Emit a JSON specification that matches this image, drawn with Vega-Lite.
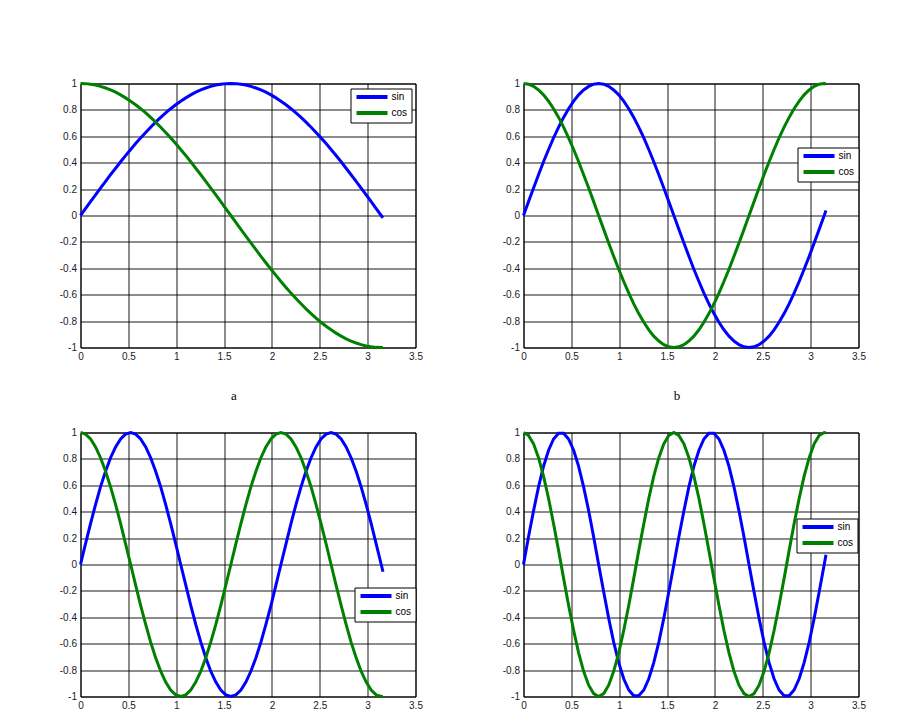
{
"$schema": "https://vega.github.io/schema/vega-lite/v6.json",
"background": "white",
"padding": {"left": 58.5, "top": 76.5, "right": 0, "bottom": 0},
"config": {
  "view": {"stroke": "#000", "strokeWidth": 1},
  "axis": {"grid": true, "gridColor": "#000", "gridOpacity": 0.9, "gridWidth": 1, "domain": false, "ticks": false, "labelFont": "Liberation Sans", "labelFontSize": 10, "labelColor": "#1a1a2a", "labelPadding": 4, "labelFlush": false, "labelOverlap": false},
  "legend": {"strokeColor": "#000", "fillColor": "#fff", "padding": 4, "symbolType": "stroke", "symbolSize": 961, "symbolStrokeWidth": 4, "labelFont": "Liberation Sans", "labelFontSize": 10, "labelOffset": 2, "clipHeight": 9, "rowPadding": 5, "labelColor": "#000"},
  "title": {"font": "Liberation Serif", "fontSize": 13, "fontWeight": "normal", "color": "#000"}
},
"datasets": {
"a": [
{"x":0,"sin":0,"cos":1},{"x":0.052,"sin":0.052,"cos":0.999},{"x":0.105,"sin":0.105,"cos":0.995},{"x":0.157,"sin":0.156,"cos":0.988},{"x":0.209,"sin":0.208,"cos":0.978},{"x":0.262,"sin":0.259,"cos":0.966},{"x":0.314,"sin":0.309,"cos":0.951},{"x":0.367,"sin":0.358,"cos":0.934},{"x":0.419,"sin":0.407,"cos":0.914},{"x":0.471,"sin":0.454,"cos":0.891},{"x":0.524,"sin":0.5,"cos":0.866},{"x":0.576,"sin":0.545,"cos":0.839},{"x":0.628,"sin":0.588,"cos":0.809},{"x":0.681,"sin":0.629,"cos":0.777},{"x":0.733,"sin":0.669,"cos":0.743},{"x":0.785,"sin":0.707,"cos":0.707},{"x":0.838,"sin":0.743,"cos":0.669},{"x":0.890,"sin":0.777,"cos":0.629},{"x":0.942,"sin":0.809,"cos":0.588},{"x":0.995,"sin":0.839,"cos":0.545},{"x":1.047,"sin":0.866,"cos":0.5},{"x":1.100,"sin":0.891,"cos":0.454},{"x":1.152,"sin":0.914,"cos":0.407},{"x":1.204,"sin":0.934,"cos":0.358},{"x":1.257,"sin":0.951,"cos":0.309},{"x":1.309,"sin":0.966,"cos":0.259},{"x":1.361,"sin":0.978,"cos":0.208},{"x":1.414,"sin":0.988,"cos":0.156},{"x":1.466,"sin":0.995,"cos":0.105},{"x":1.518,"sin":0.999,"cos":0.052},{"x":1.571,"sin":1,"cos":0},{"x":1.623,"sin":0.999,"cos":-0.052},{"x":1.676,"sin":0.995,"cos":-0.105},{"x":1.728,"sin":0.988,"cos":-0.156},{"x":1.780,"sin":0.978,"cos":-0.208},{"x":1.833,"sin":0.966,"cos":-0.259},{"x":1.885,"sin":0.951,"cos":-0.309},{"x":1.937,"sin":0.934,"cos":-0.358},{"x":1.990,"sin":0.914,"cos":-0.407},{"x":2.042,"sin":0.891,"cos":-0.454},{"x":2.094,"sin":0.866,"cos":-0.5},{"x":2.147,"sin":0.839,"cos":-0.545},{"x":2.199,"sin":0.809,"cos":-0.588},{"x":2.251,"sin":0.777,"cos":-0.629},{"x":2.304,"sin":0.743,"cos":-0.669},{"x":2.356,"sin":0.707,"cos":-0.707},{"x":2.409,"sin":0.669,"cos":-0.743},{"x":2.461,"sin":0.629,"cos":-0.777},{"x":2.513,"sin":0.588,"cos":-0.809},{"x":2.566,"sin":0.545,"cos":-0.839},{"x":2.618,"sin":0.5,"cos":-0.866},{"x":2.670,"sin":0.454,"cos":-0.891},{"x":2.723,"sin":0.407,"cos":-0.914},{"x":2.775,"sin":0.358,"cos":-0.934},{"x":2.827,"sin":0.309,"cos":-0.951},{"x":2.880,"sin":0.259,"cos":-0.966},{"x":2.932,"sin":0.208,"cos":-0.978},{"x":2.985,"sin":0.156,"cos":-0.988},{"x":3.037,"sin":0.105,"cos":-0.995},{"x":3.089,"sin":0.052,"cos":-0.999},{"x":3.142,"sin":0,"cos":-1},{"x":3.16,"sin":-0.018,"cos":-1}
],
"b": [
{"x":0,"sin":0,"cos":1},{"x":0.052,"sin":0.105,"cos":0.995},{"x":0.105,"sin":0.208,"cos":0.978},{"x":0.157,"sin":0.309,"cos":0.951},{"x":0.209,"sin":0.407,"cos":0.914},{"x":0.262,"sin":0.5,"cos":0.866},{"x":0.314,"sin":0.588,"cos":0.809},{"x":0.367,"sin":0.669,"cos":0.743},{"x":0.419,"sin":0.743,"cos":0.669},{"x":0.471,"sin":0.809,"cos":0.588},{"x":0.524,"sin":0.866,"cos":0.5},{"x":0.576,"sin":0.914,"cos":0.407},{"x":0.628,"sin":0.951,"cos":0.309},{"x":0.681,"sin":0.978,"cos":0.208},{"x":0.733,"sin":0.995,"cos":0.105},{"x":0.785,"sin":1,"cos":0},{"x":0.838,"sin":0.995,"cos":-0.105},{"x":0.890,"sin":0.978,"cos":-0.208},{"x":0.942,"sin":0.951,"cos":-0.309},{"x":0.995,"sin":0.914,"cos":-0.407},{"x":1.047,"sin":0.866,"cos":-0.5},{"x":1.100,"sin":0.809,"cos":-0.588},{"x":1.152,"sin":0.743,"cos":-0.669},{"x":1.204,"sin":0.669,"cos":-0.743},{"x":1.257,"sin":0.588,"cos":-0.809},{"x":1.309,"sin":0.5,"cos":-0.866},{"x":1.361,"sin":0.407,"cos":-0.914},{"x":1.414,"sin":0.309,"cos":-0.951},{"x":1.466,"sin":0.208,"cos":-0.978},{"x":1.518,"sin":0.105,"cos":-0.995},{"x":1.571,"sin":0,"cos":-1},{"x":1.623,"sin":-0.105,"cos":-0.995},{"x":1.676,"sin":-0.208,"cos":-0.978},{"x":1.728,"sin":-0.309,"cos":-0.951},{"x":1.780,"sin":-0.407,"cos":-0.914},{"x":1.833,"sin":-0.5,"cos":-0.866},{"x":1.885,"sin":-0.588,"cos":-0.809},{"x":1.937,"sin":-0.669,"cos":-0.743},{"x":1.990,"sin":-0.743,"cos":-0.669},{"x":2.042,"sin":-0.809,"cos":-0.588},{"x":2.094,"sin":-0.866,"cos":-0.5},{"x":2.147,"sin":-0.914,"cos":-0.407},{"x":2.199,"sin":-0.951,"cos":-0.309},{"x":2.251,"sin":-0.978,"cos":-0.208},{"x":2.304,"sin":-0.995,"cos":-0.105},{"x":2.356,"sin":-1,"cos":0},{"x":2.409,"sin":-0.995,"cos":0.105},{"x":2.461,"sin":-0.978,"cos":0.208},{"x":2.513,"sin":-0.951,"cos":0.309},{"x":2.566,"sin":-0.914,"cos":0.407},{"x":2.618,"sin":-0.866,"cos":0.5},{"x":2.670,"sin":-0.809,"cos":0.588},{"x":2.723,"sin":-0.743,"cos":0.669},{"x":2.775,"sin":-0.669,"cos":0.743},{"x":2.827,"sin":-0.588,"cos":0.809},{"x":2.880,"sin":-0.5,"cos":0.866},{"x":2.932,"sin":-0.407,"cos":0.914},{"x":2.985,"sin":-0.309,"cos":0.951},{"x":3.037,"sin":-0.208,"cos":0.978},{"x":3.089,"sin":-0.105,"cos":0.995},{"x":3.142,"sin":0,"cos":1},{"x":3.16,"sin":0.037,"cos":0.999}
],
"c": [
{"x":0,"sin":0,"cos":1},{"x":0.052,"sin":0.156,"cos":0.988},{"x":0.105,"sin":0.309,"cos":0.951},{"x":0.157,"sin":0.454,"cos":0.891},{"x":0.209,"sin":0.588,"cos":0.809},{"x":0.262,"sin":0.707,"cos":0.707},{"x":0.314,"sin":0.809,"cos":0.588},{"x":0.367,"sin":0.891,"cos":0.454},{"x":0.419,"sin":0.951,"cos":0.309},{"x":0.471,"sin":0.988,"cos":0.156},{"x":0.524,"sin":1,"cos":0},{"x":0.576,"sin":0.988,"cos":-0.156},{"x":0.628,"sin":0.951,"cos":-0.309},{"x":0.681,"sin":0.891,"cos":-0.454},{"x":0.733,"sin":0.809,"cos":-0.588},{"x":0.785,"sin":0.707,"cos":-0.707},{"x":0.838,"sin":0.588,"cos":-0.809},{"x":0.890,"sin":0.454,"cos":-0.891},{"x":0.942,"sin":0.309,"cos":-0.951},{"x":0.995,"sin":0.156,"cos":-0.988},{"x":1.047,"sin":0,"cos":-1},{"x":1.100,"sin":-0.156,"cos":-0.988},{"x":1.152,"sin":-0.309,"cos":-0.951},{"x":1.204,"sin":-0.454,"cos":-0.891},{"x":1.257,"sin":-0.588,"cos":-0.809},{"x":1.309,"sin":-0.707,"cos":-0.707},{"x":1.361,"sin":-0.809,"cos":-0.588},{"x":1.414,"sin":-0.891,"cos":-0.454},{"x":1.466,"sin":-0.951,"cos":-0.309},{"x":1.518,"sin":-0.988,"cos":-0.156},{"x":1.571,"sin":-1,"cos":0},{"x":1.623,"sin":-0.988,"cos":0.156},{"x":1.676,"sin":-0.951,"cos":0.309},{"x":1.728,"sin":-0.891,"cos":0.454},{"x":1.780,"sin":-0.809,"cos":0.588},{"x":1.833,"sin":-0.707,"cos":0.707},{"x":1.885,"sin":-0.588,"cos":0.809},{"x":1.937,"sin":-0.454,"cos":0.891},{"x":1.990,"sin":-0.309,"cos":0.951},{"x":2.042,"sin":-0.156,"cos":0.988},{"x":2.094,"sin":0,"cos":1},{"x":2.147,"sin":0.156,"cos":0.988},{"x":2.199,"sin":0.309,"cos":0.951},{"x":2.251,"sin":0.454,"cos":0.891},{"x":2.304,"sin":0.588,"cos":0.809},{"x":2.356,"sin":0.707,"cos":0.707},{"x":2.409,"sin":0.809,"cos":0.588},{"x":2.461,"sin":0.891,"cos":0.454},{"x":2.513,"sin":0.951,"cos":0.309},{"x":2.566,"sin":0.988,"cos":0.156},{"x":2.618,"sin":1,"cos":0},{"x":2.670,"sin":0.988,"cos":-0.156},{"x":2.723,"sin":0.951,"cos":-0.309},{"x":2.775,"sin":0.891,"cos":-0.454},{"x":2.827,"sin":0.809,"cos":-0.588},{"x":2.880,"sin":0.707,"cos":-0.707},{"x":2.932,"sin":0.588,"cos":-0.809},{"x":2.985,"sin":0.454,"cos":-0.891},{"x":3.037,"sin":0.309,"cos":-0.951},{"x":3.089,"sin":0.156,"cos":-0.988},{"x":3.142,"sin":0,"cos":-1},{"x":3.16,"sin":-0.055,"cos":-0.998}
],
"d": [
{"x":0,"sin":0,"cos":1},{"x":0.052,"sin":0.208,"cos":0.978},{"x":0.105,"sin":0.407,"cos":0.914},{"x":0.157,"sin":0.588,"cos":0.809},{"x":0.209,"sin":0.743,"cos":0.669},{"x":0.262,"sin":0.866,"cos":0.5},{"x":0.314,"sin":0.951,"cos":0.309},{"x":0.367,"sin":0.995,"cos":0.105},{"x":0.419,"sin":0.995,"cos":-0.105},{"x":0.471,"sin":0.951,"cos":-0.309},{"x":0.524,"sin":0.866,"cos":-0.5},{"x":0.576,"sin":0.743,"cos":-0.669},{"x":0.628,"sin":0.588,"cos":-0.809},{"x":0.681,"sin":0.407,"cos":-0.914},{"x":0.733,"sin":0.208,"cos":-0.978},{"x":0.785,"sin":0,"cos":-1},{"x":0.838,"sin":-0.208,"cos":-0.978},{"x":0.890,"sin":-0.407,"cos":-0.914},{"x":0.942,"sin":-0.588,"cos":-0.809},{"x":0.995,"sin":-0.743,"cos":-0.669},{"x":1.047,"sin":-0.866,"cos":-0.5},{"x":1.100,"sin":-0.951,"cos":-0.309},{"x":1.152,"sin":-0.995,"cos":-0.105},{"x":1.204,"sin":-0.995,"cos":0.105},{"x":1.257,"sin":-0.951,"cos":0.309},{"x":1.309,"sin":-0.866,"cos":0.5},{"x":1.361,"sin":-0.743,"cos":0.669},{"x":1.414,"sin":-0.588,"cos":0.809},{"x":1.466,"sin":-0.407,"cos":0.914},{"x":1.518,"sin":-0.208,"cos":0.978},{"x":1.571,"sin":0,"cos":1},{"x":1.623,"sin":0.208,"cos":0.978},{"x":1.676,"sin":0.407,"cos":0.914},{"x":1.728,"sin":0.588,"cos":0.809},{"x":1.780,"sin":0.743,"cos":0.669},{"x":1.833,"sin":0.866,"cos":0.5},{"x":1.885,"sin":0.951,"cos":0.309},{"x":1.937,"sin":0.995,"cos":0.105},{"x":1.990,"sin":0.995,"cos":-0.105},{"x":2.042,"sin":0.951,"cos":-0.309},{"x":2.094,"sin":0.866,"cos":-0.5},{"x":2.147,"sin":0.743,"cos":-0.669},{"x":2.199,"sin":0.588,"cos":-0.809},{"x":2.251,"sin":0.407,"cos":-0.914},{"x":2.304,"sin":0.208,"cos":-0.978},{"x":2.356,"sin":0,"cos":-1},{"x":2.409,"sin":-0.208,"cos":-0.978},{"x":2.461,"sin":-0.407,"cos":-0.914},{"x":2.513,"sin":-0.588,"cos":-0.809},{"x":2.566,"sin":-0.743,"cos":-0.669},{"x":2.618,"sin":-0.866,"cos":-0.5},{"x":2.670,"sin":-0.951,"cos":-0.309},{"x":2.723,"sin":-0.995,"cos":-0.105},{"x":2.775,"sin":-0.995,"cos":0.105},{"x":2.827,"sin":-0.951,"cos":0.309},{"x":2.880,"sin":-0.866,"cos":0.5},{"x":2.932,"sin":-0.743,"cos":0.669},{"x":2.985,"sin":-0.588,"cos":0.809},{"x":3.037,"sin":-0.407,"cos":0.914},{"x":3.089,"sin":-0.208,"cos":0.978},{"x":3.142,"sin":0,"cos":1},{"x":3.16,"sin":0.074,"cos":0.997}
]
},
"spacing": 22,
"resolve": {"scale": {"color": "independent"}, "legend": {"color": "independent"}},
"vconcat": [
 {"spacing": 78,
  "resolve": {"scale": {"color": "independent"}, "legend": {"color": "independent"}},
  "hconcat": [
  {"width": 335, "height": 264, "data": {"name": "a"},
   "title": {"text": "a", "orient": "bottom", "offset": 28, "dx": -14},
   "transform": [{"fold": ["sin", "cos"], "as": ["fn", "y"]}],
   "mark": {"type": "line", "strokeWidth": 3},
   "encoding": {
    "x": {"field": "x", "type": "quantitative", "scale": {"domain": [0, 3.5], "nice": false}, "axis": {"title": null, "values": [0, 0.5, 1, 1.5, 2, 2.5, 3, 3.5], "labelExpr": "'' + datum.value"}},
    "y": {"field": "y", "type": "quantitative", "scale": {"domain": [-1, 1], "nice": false}, "axis": {"title": null, "values": [-1, -0.8, -0.6, -0.4, -0.2, 0, 0.2, 0.4, 0.6, 0.8, 1], "labelExpr": "'' + datum.value"}},
    "color": {"field": "fn", "type": "nominal", "scale": {"domain": ["sin", "cos"], "range": ["#0000ff", "#008000"]}, "legend": {"title": null, "orient": "none", "legendX": 270, "legendY": 5}}
   }},
  {"width": 335, "height": 264, "data": {"name": "b"},
   "title": {"text": "b", "orient": "bottom", "offset": 28, "dx": -14},
   "transform": [{"fold": ["sin", "cos"], "as": ["fn", "y"]}],
   "mark": {"type": "line", "strokeWidth": 3},
   "encoding": {
    "x": {"field": "x", "type": "quantitative", "scale": {"domain": [0, 3.5], "nice": false}, "axis": {"title": null, "values": [0, 0.5, 1, 1.5, 2, 2.5, 3, 3.5], "labelExpr": "'' + datum.value"}},
    "y": {"field": "y", "type": "quantitative", "scale": {"domain": [-1, 1], "nice": false}, "axis": {"title": null, "values": [-1, -0.8, -0.6, -0.4, -0.2, 0, 0.2, 0.4, 0.6, 0.8, 1], "labelExpr": "'' + datum.value"}},
    "color": {"field": "fn", "type": "nominal", "scale": {"domain": ["sin", "cos"], "range": ["#0000ff", "#008000"]}, "legend": {"title": null, "orient": "none", "legendX": 274, "legendY": 64}}
   }}
 ]},
 {"spacing": 78,
  "resolve": {"scale": {"color": "independent"}, "legend": {"color": "independent"}},
  "hconcat": [
  {"width": 335, "height": 264, "data": {"name": "c"},
   "transform": [{"fold": ["sin", "cos"], "as": ["fn", "y"]}],
   "mark": {"type": "line", "strokeWidth": 3},
   "encoding": {
    "x": {"field": "x", "type": "quantitative", "scale": {"domain": [0, 3.5], "nice": false}, "axis": {"title": null, "values": [0, 0.5, 1, 1.5, 2, 2.5, 3, 3.5], "labelExpr": "'' + datum.value"}},
    "y": {"field": "y", "type": "quantitative", "scale": {"domain": [-1, 1], "nice": false}, "axis": {"title": null, "values": [-1, -0.8, -0.6, -0.4, -0.2, 0, 0.2, 0.4, 0.6, 0.8, 1], "labelExpr": "'' + datum.value"}},
    "color": {"field": "fn", "type": "nominal", "scale": {"domain": ["sin", "cos"], "range": ["#0000ff", "#008000"]}, "legend": {"title": null, "orient": "none", "legendX": 274, "legendY": 155}}
   }},
  {"width": 335, "height": 264, "data": {"name": "d"},
   "transform": [{"fold": ["sin", "cos"], "as": ["fn", "y"]}],
   "mark": {"type": "line", "strokeWidth": 3},
   "encoding": {
    "x": {"field": "x", "type": "quantitative", "scale": {"domain": [0, 3.5], "nice": false}, "axis": {"title": null, "values": [0, 0.5, 1, 1.5, 2, 2.5, 3, 3.5], "labelExpr": "'' + datum.value"}},
    "y": {"field": "y", "type": "quantitative", "scale": {"domain": [-1, 1], "nice": false}, "axis": {"title": null, "values": [-1, -0.8, -0.6, -0.4, -0.2, 0, 0.2, 0.4, 0.6, 0.8, 1], "labelExpr": "'' + datum.value"}},
    "color": {"field": "fn", "type": "nominal", "scale": {"domain": ["sin", "cos"], "range": ["#0000ff", "#008000"]}, "legend": {"title": null, "orient": "none", "legendX": 273, "legendY": 86}}
   }}
 ]}
]
}
